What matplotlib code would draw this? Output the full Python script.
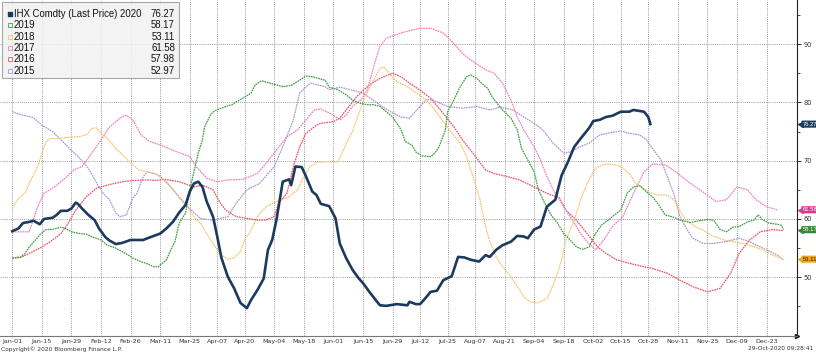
import numpy as np
import pandas as pd
import matplotlib
matplotlib.use("Agg")
import matplotlib.pyplot as plt
from matplotlib.patches import Rectangle
from matplotlib.transforms import blended_transform_factory

W, H = 816, 354

# x = days since Jan-01, y = price
d20 = [0, 3, 5, 8, 10, 13, 15, 19, 21, 23, 26, 28, 30, 31, 33, 36, 39, 41, 44, 46,
       49, 52, 56, 62, 64, 67, 70, 73, 76, 79, 82, 84, 86, 88, 90, 92, 95, 97, 99, 102,
       105, 108, 111, 113, 116, 119, 121, 123, 125, 128, 131, 132, 134, 137, 139, 142, 144, 146, 148, 150,
       153, 155, 158, 161, 164, 166, 169, 172, 174, 177, 182, 187, 188, 191, 193, 195, 198, 201, 204, 208,
       211, 214, 217, 221, 224, 226, 229, 232, 236, 239, 242, 244, 247, 250, 253, 257, 260, 263, 266, 269,
       273, 275, 278, 281, 284, 288, 292, 294, 299, 301, 302]
v20 = [57.9, 58.4, 59.3, 59.5, 59.7, 59.1, 60.0, 60.2, 60.7, 61.4, 61.4, 61.8, 62.8, 62.6, 61.8, 60.7, 59.8, 58.4, 56.9, 56.3,
       55.7, 55.9, 56.4, 56.4, 56.7, 57.1, 57.5, 58.4, 59.5, 61.1, 62.4, 64.7, 66.1, 66.4, 65.5, 63.0, 60.4, 57.0, 53.3, 50.1,
       48.1, 45.6, 44.7, 46.1, 47.8, 49.8, 54.7, 56.4, 59.8, 66.4, 66.8, 65.8, 69.0, 68.9, 67.3, 64.7, 64.1, 62.6, 62.4, 62.2,
       60.1, 55.8, 53.3, 51.3, 49.8, 49.0, 47.5, 46.1, 45.2, 45.1, 45.4, 45.2, 45.8, 45.4, 45.4, 46.2, 47.5, 47.7, 49.5, 50.2,
       53.5, 53.4, 53.0, 52.7, 53.8, 53.5, 54.7, 55.5, 56.1, 57.1, 57.0, 56.7, 58.2, 58.7, 62.1, 63.3, 67.5, 69.8, 72.4, 73.8,
       75.6, 76.8, 77.0, 77.5, 77.7, 78.4, 78.4, 78.7, 78.4, 77.5, 76.27]

d19 = [0, 4, 6, 8, 11, 13, 16, 19, 23, 25, 28, 32, 35, 38, 42, 45, 49, 52, 55, 57,
       60, 64, 67, 69, 71, 73, 75, 77, 79, 82, 84, 86, 88, 90, 91, 94, 96, 99, 102, 104,
       106, 110, 113, 115, 118, 121, 124, 128, 132, 136, 139, 142, 145, 148, 150, 154, 158, 161, 165, 168,
       171, 174, 177, 180, 184, 186, 189, 191, 194, 198, 200, 202, 205, 206, 209, 212, 215, 217, 220, 222,
       225, 227, 230, 232, 236, 239, 241, 244, 247, 249, 252, 255, 258, 261, 264, 267, 270, 273, 276, 279,
       282, 285, 288, 291, 294, 297, 300, 303, 306, 309, 313, 316, 321, 325, 329, 332, 335, 338, 341, 344,
       348, 351, 353, 355, 358, 362, 364, 365]
v19 = [53.3, 53.5, 54.1, 55.2, 56.4, 57.3, 58.2, 58.2, 58.6, 58.4, 57.8, 57.5, 57.4, 56.9, 56.4, 55.5, 55.0, 54.4, 53.8, 53.3,
       52.8, 52.3, 51.8, 51.8, 52.4, 53.0, 54.7, 56.1, 59.3, 61.0, 65.0, 68.1, 71.3, 73.6, 75.8, 78.0, 78.6, 79.0, 79.4, 79.6,
       80.1, 80.9, 81.6, 83.0, 83.7, 83.4, 83.1, 82.7, 82.9, 83.8, 84.5, 84.4, 84.1, 83.8, 82.6, 82.2, 81.3, 80.4, 79.8, 79.6,
       79.6, 79.3, 78.4, 77.5, 75.3, 73.3, 72.7, 71.5, 70.8, 70.7, 71.3, 72.4, 75.3, 78.4, 80.4, 82.7, 84.4, 84.7, 84.1, 83.3,
       82.4, 81.0, 79.6, 78.7, 77.3, 75.3, 72.1, 70.1, 68.1, 65.0, 62.7, 60.7, 59.3, 57.5, 56.4, 55.2, 54.8, 55.2, 57.5, 59.0,
       59.8, 60.7, 61.5, 64.4, 65.5, 65.7, 64.7, 63.8, 62.4, 60.7, 60.3, 59.8, 59.4, 59.7, 59.9, 59.8, 58.2, 57.8, 58.6, 58.7,
       59.5, 59.8, 60.7, 59.9, 59.3, 59.1, 58.9, 58.17]

d18 = [0, 3, 6, 8, 12, 14, 16, 18, 22, 26, 31, 35, 38, 40, 42, 45, 49, 53, 57, 60,
       64, 68, 73, 76, 79, 83, 86, 89, 92, 95, 98, 102, 105, 108, 110, 113, 116, 120, 124, 127,
       131, 135, 138, 141, 144, 148, 154, 156, 159, 161, 164, 167, 171, 174, 176, 179, 182, 187, 191, 196,
       200, 204, 208, 212, 215, 218, 221, 224, 226, 229, 232, 236, 239, 242, 245, 249, 253, 255, 258, 260,
       262, 266, 269, 272, 276, 280, 284, 288, 292, 295, 301, 305, 310, 314, 316, 319, 323, 327, 332, 337,
       341, 346, 351, 355, 360, 365]
v18 = [61.8, 63.6, 64.4, 66.1, 69.0, 71.3, 73.3, 73.8, 73.8, 74.0, 74.1, 74.4, 75.6, 75.6, 74.7, 73.8, 72.1, 70.7, 69.3, 68.4,
       68.1, 67.7, 66.4, 65.0, 63.6, 62.1, 60.4, 59.3, 57.5, 55.8, 54.1, 53.1, 53.3, 54.4, 56.4, 58.1, 60.4, 62.1, 62.8, 63.3,
       63.8, 65.0, 67.3, 69.0, 69.7, 69.8, 69.8, 71.3, 73.6, 75.0, 78.1, 81.0, 83.8, 85.8, 86.1, 84.7, 83.6, 82.7, 81.7, 80.4,
       78.7, 76.7, 74.7, 73.0, 70.7, 67.3, 63.8, 58.7, 56.1, 53.5, 51.8, 50.1, 48.4, 46.7, 45.8, 45.6, 46.4, 47.8, 50.7, 53.0,
       56.4, 59.8, 63.3, 66.1, 68.7, 69.4, 69.4, 69.0, 67.8, 66.1, 64.7, 64.1, 64.1, 63.0, 61.3, 59.8, 58.7, 58.1, 57.0, 56.4,
       56.1, 55.8, 55.2, 54.7, 53.8, 53.11]

d17 = [0, 8, 12, 15, 20, 26, 29, 33, 37, 41, 46, 51, 54, 57, 61, 65, 70, 72, 78, 84,
       87, 92, 97, 102, 109, 116, 120, 125, 130, 135, 139, 143, 146, 152, 155, 158, 161, 165, 168, 171,
       174, 177, 184, 188, 193, 198, 204, 209, 213, 218, 224, 228, 232, 236, 239, 242, 247, 250, 253, 256,
       259, 262, 266, 269, 272, 276, 280, 284, 289, 294, 299, 303, 309, 314, 321, 329, 333, 338, 343, 348,
       352, 357, 362]
v17 = [57.8, 57.8, 62.1, 64.4, 65.5, 67.3, 68.4, 69.0, 71.0, 73.0, 75.8, 77.3, 77.8, 77.0, 74.4, 73.3, 72.7, 72.4, 71.5, 70.7,
       69.0, 67.0, 66.4, 66.7, 66.8, 67.8, 69.5, 71.8, 74.1, 75.3, 77.0, 78.7, 78.9, 77.8, 77.0, 77.8, 79.3, 80.4, 82.1, 86.1,
       89.6, 91.0, 91.9, 92.3, 92.7, 92.7, 91.9, 90.1, 88.4, 87.0, 85.6, 85.0, 83.3, 80.4, 77.5, 75.3, 72.4, 70.1, 67.3, 65.0,
       63.3, 61.5, 59.3, 57.5, 56.1, 54.7, 56.4, 58.7, 60.4, 64.4, 68.1, 69.4, 69.3, 68.1, 66.1, 64.1, 63.0, 63.3, 65.5, 65.0,
       63.3, 62.1, 61.58]

d16 = [0, 4, 8, 13, 18, 23, 26, 30, 35, 40, 46, 52, 57, 64, 68, 72, 79, 86, 90, 95,
       98, 101, 106, 111, 116, 120, 124, 126, 130, 133, 136, 139, 144, 146, 152, 155, 158, 163, 169, 174,
       180, 184, 188, 193, 198, 204, 209, 213, 218, 224, 228, 234, 240, 247, 253, 259, 262, 267, 272, 277,
       281, 286, 292, 299, 303, 310, 316, 322, 329, 335, 340, 344, 349, 354, 360, 365]
v16 = [53.3, 53.4, 54.1, 55.0, 56.1, 57.5, 59.0, 61.5, 63.8, 65.3, 65.9, 66.4, 66.6, 66.7, 66.6, 66.8, 66.4, 65.5, 65.8, 65.0,
       63.0, 61.5, 60.4, 60.1, 59.8, 59.8, 60.4, 62.7, 64.4, 69.0, 72.4, 74.7, 76.1, 76.4, 76.7, 77.3, 78.7, 81.0, 83.0, 84.1,
       85.0, 84.4, 83.3, 82.1, 80.7, 78.1, 75.8, 73.6, 71.3, 68.4, 67.8, 67.3, 66.7, 65.5, 64.4, 63.6, 61.5, 59.8, 57.5, 55.2,
       54.1, 53.0, 52.4, 51.8, 51.5, 50.7, 49.5, 48.4, 47.5, 48.1, 50.7, 54.1, 56.4, 57.8, 58.2, 57.98]

d15 = [0, 5, 10, 14, 19, 23, 27, 32, 36, 40, 43, 46, 49, 51, 54, 57, 59, 62, 64, 68,
       70, 75, 83, 89, 95, 102, 106, 111, 117, 124, 128, 133, 136, 141, 148, 150, 155, 161, 166, 173,
       179, 184, 188, 193, 196, 199, 206, 213, 220, 226, 231, 237, 242, 247, 251, 256, 261, 264, 269, 273,
       278, 283, 288, 292, 297, 300, 303, 307, 310, 313, 316, 319, 322, 327, 332, 337, 341, 344, 349, 354,
       359, 362, 365]
v15 = [78.4, 77.8, 77.4, 76.1, 75.0, 73.6, 72.1, 70.4, 68.7, 66.1, 64.4, 63.3, 61.0, 60.4, 60.7, 63.6, 64.4, 67.3, 68.1, 67.7,
       67.3, 65.5, 62.1, 60.1, 59.8, 60.4, 62.7, 65.0, 66.1, 69.0, 72.4, 77.0, 81.6, 83.3, 82.7, 82.2, 82.6, 82.1, 81.6, 79.8,
       78.4, 77.5, 77.3, 79.3, 80.5, 80.4, 79.3, 79.0, 79.3, 78.7, 79.2, 78.7, 77.5, 76.4, 75.3, 73.0, 71.3, 71.5, 72.4, 73.0,
       74.4, 74.8, 75.1, 74.7, 74.4, 73.6, 72.1, 70.1, 67.3, 64.4, 60.4, 58.4, 56.7, 55.8, 55.8, 56.1, 56.4, 56.7, 56.1, 55.2,
       54.4, 53.8, 52.97]

tick_dates = ["Jan-01", "Jan-15", "Jan-29", "Feb-12", "Feb-26", "Mar-11", "Mar-25", "Apr-07", "Apr-20",
              "May-04", "May-18", "Jun-01", "Jun-15", "Jun-29", "Jul-12", "Jul-25", "Aug-07", "Aug-21",
              "Sep-04", "Sep-18", "Oct-02", "Oct-15", "Oct-28", "Nov-11", "Nov-25", "Dec-09", "Dec-23"]

names = ["IHX Comdty (Last Price) 2020", "2019", "2018", "2017", "2016", "2015"]
last = ["76.27", "58.17", "53.11", "61.58", "57.98", "52.97"]
colors = ["#1c3a5e", "#3f9f45", "#f6c46e", "#ee82be", "#e8566e", "#a998d6"]
series = [(d20, v20), (d19, v19), (d18, v18), (d17, v17), (d16, v16), (d15, v15)]

# tags on the right axis (value, text colour)
tags = [(76.27, "76.27", "#1c3a5e", "white"), (61.58, "61.58", "#d93a8e", "white"),
        (58.17, "58.17", "#2f8a2f", "white"), (53.11, "53.11", "#f0a818", "#222222")]


def px(x, y):
    return x / W, 1 - y / H


fig = plt.figure(figsize=(W / 100, H / 100), dpi=100, facecolor="white")
ax = fig.add_axes([0, 18 / H, 797 / W, 336 / H])
ax.set_xlim(-5.82, 371.4)
ax.set_ylim(39.93, 97.56)

# older years first (thin dotted), 2020 on top
for i in range(len(series) - 1, 0, -1):
    d, v = series[i]
    ax.plot(d, v, color=colors[i], lw=0.9, ls=(0, (1.4, 0.6)), zorder=3)
ax.plot(d20, v20, color=colors[0], lw=1.9, zorder=5, solid_joinstyle="round")

base = pd.Timestamp("2020-01-01")
xt = [(pd.Timestamp("2020-" + s) - base).days for s in tick_dates]
ax.set_xticks(xt)
ax.set_xticklabels(tick_dates, fontsize=4.6, color="#333333")
ax.tick_params(axis="x", length=0, pad=2.5)

ax.yaxis.tick_right()
ax.set_yticks([50, 60, 70, 80, 90])
ax.set_yticks([45, 55, 65, 75, 85, 95], minor=True)
ax.tick_params(axis="y", which="major", direction="out", length=3, width=0.7,
               color="#333333", labelsize=4.8, labelcolor="#333333", pad=2)
ax.tick_params(axis="y", which="minor", direction="out", length=2, width=0.6, color="#333333")

ax.grid(True, which="major", ls=(0, (1, 1.2)), color="#9a9a9a", lw=0.7)
for s in ("left", "top"):
    ax.spines[s].set_visible(False)
ax.spines["right"].set_color("#222222")
ax.spines["right"].set_linewidth(0.8)
ax.spines["bottom"].set_color("#777777")
ax.spines["bottom"].set_linestyle((0, (1, 1)))
ax.plot([1.0], [0.0], marker=">", ms=3, color="#222222", transform=ax.transAxes, clip_on=False)

tr = blended_transform_factory(ax.transAxes, ax.transData)
for val, txt, fc, tc in tags:
    ax.plot([1.0035], [val], marker="<", ms=3.6, color=fc, transform=tr, clip_on=False, zorder=6)
    ax.text(1.0068, val, txt, transform=tr, fontsize=4.2, family="Liberation Sans", color=tc,
            ha="left", va="center",
            bbox=dict(boxstyle="round,pad=0.18,rounding_size=0.12", fc=fc, ec="none"), zorder=7)

# legend box, top left
lx0, ly0 = px(2, 78)
lx1, ly1 = px(179, 2)
fig.patches.append(Rectangle((lx0, ly0), lx1 - lx0, ly1 - ly0, transform=fig.transFigure,
                             fc="#f2f2f2", ec="#9a9a9a", lw=0.8, alpha=0.85, zorder=10))
for i, (nm, val) in enumerate(zip(names, last)):
    yy = 14 + i * 11.3
    mx, my = px(10, yy)
    if i == 0:
        fig.lines.append(plt.Line2D([mx], [my], marker="s", ms=3.2, color=colors[0],
                                    transform=fig.transFigure, zorder=11))
    else:
        fig.lines.append(plt.Line2D([mx], [my], marker="s", ms=3.2, mfc="none", mec=colors[i],
                                    mew=0.6, transform=fig.transFigure, zorder=11))
    fig.text(*px(14, yy), nm, fontsize=6.9, family="Liberation Sans", color="#111111",
             ha="left", va="center", zorder=12)
    fig.text(*px(175, yy), val, fontsize=6.9, family="Liberation Sans", color="#111111",
             ha="right", va="center", zorder=12)

fig.text(*px(1, 349), "Copyright\u00a9 2020 Bloomberg Finance L.P.", fontsize=4.2,
         color="#333333", ha="left", va="center")
fig.text(*px(813, 349), "29-Oct-2020 09:28:41", fontsize=4.2, color="#333333",
         ha="right", va="center")

fig.savefig("out.png", dpi=100)
